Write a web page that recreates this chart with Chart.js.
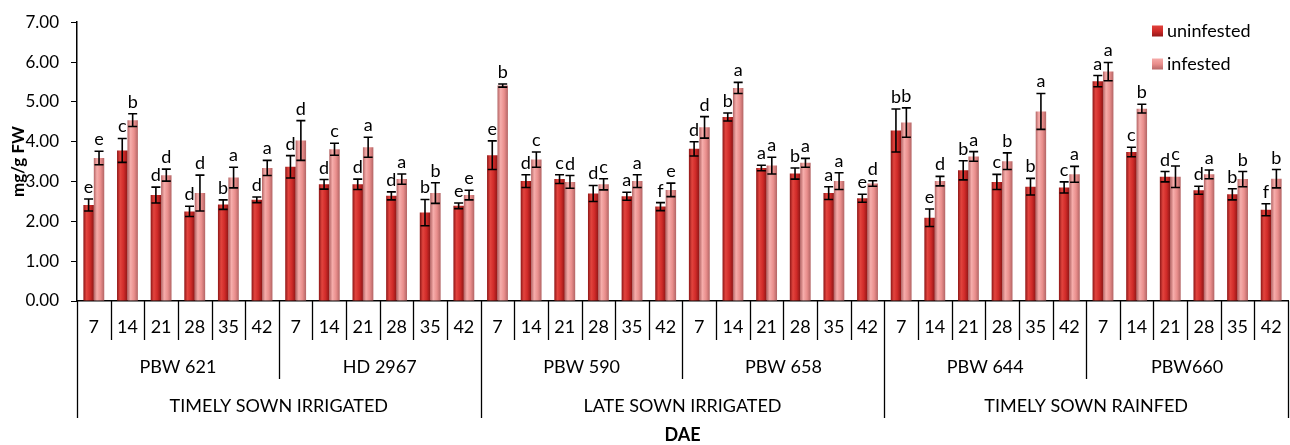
<!DOCTYPE html>
<html>
<head>
<meta charset="utf-8">
<script src="https://cdn.jsdelivr.net/npm/chart.js@4.4.1/dist/chart.umd.min.js"></script>
<style>
  html, body { margin: 0; padding: 0; background: #fff; }
  #wrap { width: 1290px; height: 445px; }
</style>
</head>
<body>
<div id="wrap"><canvas id="barChart"></canvas></div>
<script>
// sampling days, varieties and sowing conditions (three label rows under the bars)
const dae = ["7", "14", "21", "28", "35", "42"];
const varieties = ["PBW 621", "HD 2967", "PBW 590", "PBW 658", "PBW 644", "PBW660"];
const conditions = ["TIMELY SOWN IRRIGATED", "LATE SOWN IRRIGATED", "TIMELY SOWN RAINFED"];

// mg/g FW
const uninfested = [
  2.41, 3.78, 2.66, 2.25, 2.42, 2.54,
  3.37, 2.93, 2.93, 2.64, 2.22, 2.39,
  3.66, 3.01, 3.06, 2.70, 2.63, 2.37,
  3.82, 4.62, 3.34, 3.20, 2.71, 2.58,
  4.28, 2.09, 3.28, 2.99, 2.87, 2.85,
  5.52, 3.74, 3.12, 2.78, 2.68, 2.29
];
const infested = [
  3.59, 4.54, 3.16, 2.71, 3.10, 3.34,
  4.03, 3.81, 3.86, 3.06, 2.71, 2.66,
  5.41, 3.55, 2.99, 2.93, 3.01, 2.79,
  4.36, 5.35, 3.40, 3.47, 3.01, 2.95,
  4.48, 3.01, 3.63, 3.51, 4.76, 3.18,
  5.76, 4.83, 3.12, 3.18, 3.06, 3.07
];

// error bar half-lengths
const uninfestedErr = [
  0.15, 0.30, 0.20, 0.13, 0.12, 0.07,
  0.28, 0.12, 0.13, 0.10, 0.33, 0.07,
  0.36, 0.16, 0.11, 0.20, 0.10, 0.10,
  0.18, 0.10, 0.07, 0.14, 0.16, 0.10,
  0.54, 0.22, 0.24, 0.19, 0.21, 0.14,
  0.14, 0.12, 0.13, 0.10, 0.14, 0.15
];
const infestedErr = [
  0.17, 0.16, 0.15, 0.45, 0.26, 0.19,
  0.50, 0.15, 0.25, 0.13, 0.26, 0.12,
  0.04, 0.19, 0.16, 0.14, 0.16, 0.17,
  0.27, 0.14, 0.21, 0.11, 0.21, 0.07,
  0.37, 0.12, 0.12, 0.21, 0.45, 0.20,
  0.23, 0.11, 0.27, 0.11, 0.19, 0.23
];

// significance letters
const uninfestedLetters = [
  "e", "c", "d", "d", "b", "d",
  "d", "d", "d", "d", "b", "e",
  "e", "d", "c", "d", "a", "f",
  "d", "b", "a", "b", "a", "e",
  "b", "e", "b", "c", "b", "c",
  "a", "c", "d", "d", "b", "f"
];
const infestedLetters = [
  "e", "b", "d", "d", "a", "a",
  "d", "c", "a", "a", "b", "e",
  "b", "c", "d", "c", "a", "e",
  "d", "a", "a", "a", "a", "d",
  "b", "d", "a", "b", "a", "a",
  "a", "b", "c", "a", "b", "b"
];

const yTicks = [0, 1, 2, 3, 4, 5, 6, 7];

const FONT = "Lato, 'Noto Sans', sans-serif";
const CAT_PCT = 0.62;

// one label per bar pair
const labels = [];
varieties.forEach(v => dae.forEach(d => labels.push(d)));

const shades = [
  { dark: "#8e1616", mid: "#cf2a28", light: "#e2443e" },
  { dark: "#b36464", mid: "#e98e8c", light: "#f6adab" }
];

// shaded (cylinder-like) fill, worked out from the x scale for each bar
function barFill(c) {
  const s = shades[c.datasetIndex];
  const chart = c.chart;
  const xs = chart.scales.x;
  if (!xs || !chart.chartArea || c.type !== "data") return s.mid;
  const catW = xs.getPixelForValue(1) - xs.getPixelForValue(0);
  const bw = catW * CAT_PCT / 2;
  const x0 = xs.getPixelForValue(c.dataIndex) - catW * CAT_PCT / 2 + c.datasetIndex * bw;
  const g = chart.ctx.createLinearGradient(x0, 0, x0 + bw, 0);
  g.addColorStop(0, s.dark);
  g.addColorStop(0.3, s.light);
  g.addColorStop(0.65, s.mid);
  g.addColorStop(1, s.dark);
  return g;
}

// error bars and the letters above them
const errorBars = {
  id: "errorBars",
  afterDatasetsDraw(chart) {
    const ctx = chart.ctx;
    const y = chart.scales.y;
    const errs = [uninfestedErr, infestedErr];
    const letters = [uninfestedLetters, infestedLetters];
    ctx.save();
    chart.data.datasets.forEach((ds, di) => {
      chart.getDatasetMeta(di).data.forEach((bar, i) => {
        const v = ds.data[i], e = errs[di][i];
        const top = y.getPixelForValue(v + e), bot = y.getPixelForValue(v - e);
        ctx.strokeStyle = "#000";
        ctx.lineWidth = 1.6;
        ctx.beginPath();
        ctx.moveTo(bar.x, top); ctx.lineTo(bar.x, bot);
        ctx.moveTo(bar.x - 4.5, top); ctx.lineTo(bar.x + 4.5, top);
        ctx.moveTo(bar.x - 4.5, bot); ctx.lineTo(bar.x + 4.5, bot);
        ctx.stroke();
        ctx.fillStyle = "#000";
        ctx.font = "18px " + FONT;
        ctx.textAlign = "center";
        ctx.textBaseline = "alphabetic";
        ctx.fillText(letters[di][i], bar.x, top - 6);
      });
    });
    ctx.restore();
  }
};

// three rows of category labels with their separators, plus legend
const categoryRows = {
  id: "categoryRows",
  afterDraw(chart) {
    const ctx = chart.ctx;
    const x = chart.scales.x;
    const area = chart.chartArea;
    const half = (x.getPixelForValue(1) - x.getPixelForValue(0)) / 2;
    const base = area.bottom;
    ctx.save();
    ctx.strokeStyle = "#000";
    ctx.lineWidth = 1.3;
    for (let i = 0; i <= labels.length; i++) {
      const px = Math.round(x.getPixelForValue(i) - half) + 0.5;
      let len = 39;
      if (i % 6 === 0) len = 78;
      if (i % 12 === 0) len = 117;
      ctx.beginPath();
      ctx.moveTo(px, base);
      ctx.lineTo(px, base + len);
      ctx.stroke();
    }
    ctx.fillStyle = "#000";
    ctx.textAlign = "center";
    ctx.textBaseline = "middle";
    ctx.font = "18px " + FONT;
    labels.forEach((l, i) => ctx.fillText(l, x.getPixelForValue(i), base + 26));
    varieties.forEach((v, k) => {
      const c = (x.getPixelForValue(k * 6) + x.getPixelForValue(k * 6 + 5)) / 2;
      ctx.fillText(v, c, base + 66);
    });
    conditions.forEach((c, k) => {
      const m = (x.getPixelForValue(k * 12) + x.getPixelForValue(k * 12 + 11)) / 2;
      ctx.fillText(c, m, base + 105);
    });
    ctx.font = "bold 18px " + FONT;
    ctx.fillText("DAE", (area.left + area.right) / 2, base + 134);

    // legend
    ctx.textAlign = "left";
    ctx.font = "18px " + FONT;
    chart.data.datasets.forEach((ds, di) => {
      const s = shades[di];
      const ly = 31 + di * 33;
      const g = ctx.createLinearGradient(0, ly - 6, 0, ly + 6);
      g.addColorStop(0, s.light);
      g.addColorStop(0.5, s.mid);
      g.addColorStop(1, s.dark);
      ctx.fillStyle = g;
      ctx.fillRect(1152, ly - 5.5, 11, 11);
      ctx.fillStyle = "#000";
      ctx.fillText(ds.label, 1167, ly);
    });
    ctx.restore();
  }
};

const chart = new Chart(document.getElementById("barChart"), {
  type: "bar",
  data: {
    labels: labels,
    datasets: [
      { label: "uninfested", data: uninfested, backgroundColor: barFill },
      { label: "infested", data: infested, backgroundColor: barFill }
    ]
  },
  options: {
    responsive: true,
    maintainAspectRatio: false,
    animation: false,
    layout: { padding: { top: 10, right: 2, bottom: 136, left: 0 } },
    plugins: {
      legend: { display: false },
      tooltip: { enabled: false }
    },
    datasets: {
      bar: { categoryPercentage: CAT_PCT, barPercentage: 1.0 }
    },
    scales: {
      x: {
        grid: { display: false },
        ticks: { display: false },
        border: { display: true, color: "#000", width: 1.5 }
      },
      y: {
        min: 0,
        max: 7,
        afterFit: (s) => { s.width = 77; },
        afterBuildTicks: (s) => { s.ticks = yTicks.map(v => ({ value: v })); },
        grid: { drawOnChartArea: false, drawTicks: true, tickLength: 6, color: "#000" },
        border: { display: true, color: "#000", width: 1.5 },
        ticks: {
          padding: 12,
          color: "#000",
          font: { family: FONT, size: 17 },
          callback: (v) => Number(v).toFixed(2)
        },
        title: {
          display: true,
          text: "mg/g FW",
          color: "#000",
          font: { family: FONT, size: 17, weight: "bold" },
          padding: { top: 8, bottom: 0 }
        }
      }
    }
  },
  plugins: [errorBars, categoryRows]
});
</script>
</body>
</html>
